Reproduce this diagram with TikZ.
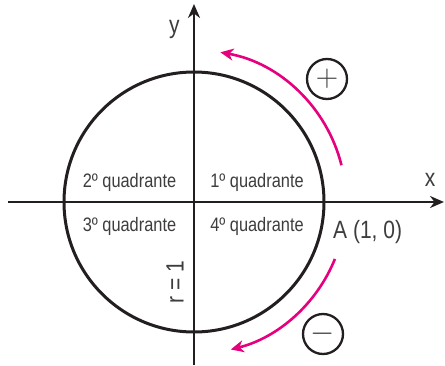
\documentclass[tikz,border=0pt]{standalone}
\usepackage{graphicx}
\usepackage{fontspec}
\setmainfont{Liberation Sans}[FakeStretch=0.84]
\usetikzlibrary{arrows.meta}
\definecolor{AxisBlack}{RGB}{35,31,32}
\definecolor{LabelGray}{RGB}{62,60,60}
\definecolor{SignPink}{RGB}{230,0,126}

\begin{document}
\begin{tikzpicture}[x=1pt,y=1pt,
axis/.style={line width=2.6pt,draw=AxisBlack,-{Stealth[length=14pt,width=12pt]}},
unit/.style={line width=3pt,draw=AxisBlack},
turn/.style={line width=2.6pt,draw=SignPink,-{Stealth[length=13pt,width=12pt,inset=4pt]}},
quad/.style={font=\fontsize{19.5}{20}\selectfont,text=LabelGray,anchor=base},
lbl/.style={font=\fontsize{25}{26}\selectfont,text=LabelGray,inner sep=0pt},
sign/.style={circle,draw=AxisBlack,line width=2.3pt,minimum size=40pt,inner sep=0pt,font=\fontsize{24}{24}\selectfont,text=LabelGray}
]
\useasboundingbox (-194,-163) rectangle (251,202);
\coordinate (O) at (0,0);
\coordinate (xl) at (-186,0);
\coordinate (xr) at (250,0);
\coordinate (yb) at (0,-163);
\coordinate (yt) at (0,198);
\draw[unit] (O) circle (130);
\draw[axis] (xl)--(xr);
\draw[axis] (yb)--(yt);
% quadrants
\node[quad] (q2) at (-64.5,15) {2º quadrante};
\node[quad] (q1) at (63,15) {1º quadrante};
\node[quad] (q3) at (-64.5,-29) {3º quadrante};
\node[quad] (q4) at (63,-29) {4º quadrante};
\node[lbl,anchor=base] (xlab) at (236,16) {x};
\node[lbl,anchor=base] (ylab) at (-19.5,169) {y};
\node[lbl,anchor=base west] (A) at (139,-36) {A (1, 0)};
\node[lbl,rotate=90] (r) at (-19,-80.5) {r = 1};
% sense of rotation
\coordinate (up0) at (14:152);
\coordinate (dn0) at (-22:152);
\draw[turn] (up0) arc[start angle=14,end angle=80,radius=152];
\draw[turn] (dn0) arc[start angle=-22,end angle=-76,radius=152];
\node[sign] (plus) at (133,123) {\scalebox{1.25}{$+$}};
\node[sign] (minus) at (129,-132) {\scalebox{1.25}{$-$}};
\end{tikzpicture}
\end{document}
